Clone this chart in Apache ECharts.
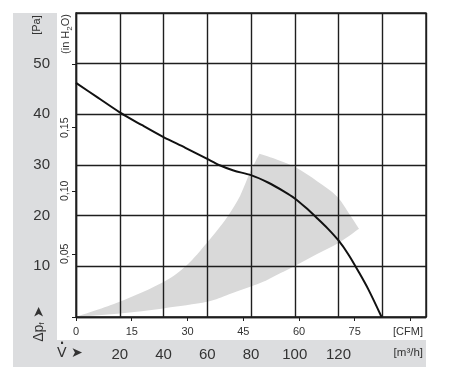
<!DOCTYPE html>
<html>
<head>
<meta charset="utf-8">
<script src="https://cdn.jsdelivr.net/npm/echarts/dist/echarts.min.js"></script>
<style>
html,body{margin:0;padding:0;background:#fff;}
#chart{width:458px;height:391px;}
</style>
</head>
<body>
<div id="chart"></div>
<script>
// ---- data ----
// fan curve: volume flow [m³/h] vs static pressure [Pa]
const curveFlow = [0, 10, 20, 30, 40, 50, 60, 66, 72, 80, 88, 95, 100, 105, 110, 115, 120, 124.6, 129.1, 133.7, 139.7];
const curvePa   = [46.2, 43.3, 40.4, 37.9, 35.5, 33.4, 31.2, 29.9, 28.9, 28.0, 26.5, 24.8, 23.4, 21.6, 19.6, 17.5, 15.1, 12.3, 9.0, 5.4, 0];

// shaded operating range: upper edge (from origin), outer arc, lower edge (back to origin)
const bandUpperFlow = [0, 20, 40, 50.6, 59.8, 66, 70, 75, 79.6, 83.9];
const bandUpperPa   = [0, 3.0, 6.9, 10.2, 14.6, 17.9, 20.3, 23.9, 28.6, 32.2];
const bandArcFlow   = [83.9, 92.3, 101, 110.2, 119.3, 125.3, 129.4];
const bandArcPa     = [32.2, 31.0, 29.4, 26.8, 23.8, 20.1, 17.4];
const bandLowerFlow = [129.4, 120, 110, 100.2, 90, 84.2, 70, 59.8, 39.9, 20.1, 0];
const bandLowerPa   = [17.4, 14.6, 12.4, 10.1, 7.9, 6.7, 4.5, 3.0, 1.7, 0.7, 0];

// axis tick labels
const paLabels   = [10, 20, 30, 40, 50];
const flowLabels = [20, 40, 60, 80, 100, 120];
const cfmLabels  = [0, 15, 30, 45, 60, 75];
const inH2OLabels = ['0,05', '0,10', '0,15'];

const M3H_PER_CFM = 1.699;
const PA_PER_INH2O = 249.09;
const FLOW_MAX = 160, PA_MAX = 60;

const FONT = '"Liberation Sans", Arial, sans-serif';
const TXT = '#333';
const LINE = '#1e1e1e';

// Catmull-Rom -> cubic Bezier path segments through pixel points (no extra data points)
function curveSegs(p) {
  let d = '';
  for (let i = 0; i < p.length - 1; i++) {
    const p0 = p[i - 1] || p[i], p1 = p[i], p2 = p[i + 1], p3 = p[i + 2] || p[i + 1];
    const c1 = [p1[0] + (p2[0] - p0[0]) / 6, p1[1] + (p2[1] - p0[1]) / 6];
    const c2 = [p2[0] - (p3[0] - p1[0]) / 6, p2[1] - (p3[1] - p1[1]) / 6];
    d += ' C' + c1[0] + ',' + c1[1] + ' ' + c2[0] + ',' + c2[1] + ' ' + p2[0] + ',' + p2[1];
  }
  return d;
}

const chart = echarts.init(document.getElementById('chart'), null, {renderer: 'canvas'});

const option = {
  animation: false,
  backgroundColor: '#fff',
  textStyle: {fontFamily: FONT},
  grid: {left: 76, right: 32, top: 13, bottom: 74, show: true, borderColor: LINE, borderWidth: 1.4, backgroundColor: 'transparent'},
  xAxis: [
    {
      type: 'value', min: 0, max: FLOW_MAX, interval: 20, position: 'bottom',
      axisLine: {show: true, lineStyle: {color: LINE, width: 1.4}},
      axisTick: {show: false},
      splitLine: {show: true, lineStyle: {color: LINE, width: 1.4}},
      axisLabel: {
        margin: 30, fontSize: 15, color: TXT, fontFamily: FONT,
        formatter: v => flowLabels.includes(Math.round(v)) && Math.abs(v - Math.round(v)) < 1e-6 ? String(Math.round(v)) : ''
      }
    },
    {
      type: 'value', min: 0, max: FLOW_MAX / M3H_PER_CFM, interval: 15, position: 'bottom',
      axisLine: {show: false},
      axisTick: {show: true, length: 4, lineStyle: {color: LINE, width: 1}},
      splitLine: {show: false},
      axisLabel: {
        margin: 9, fontSize: 11, color: TXT, fontFamily: FONT,
        showMaxLabel: false,
        formatter: v => (Math.abs(v - Math.round(v)) < 1e-6 && cfmLabels.includes(Math.round(v))) ? String(Math.round(v)) : ''
      }
    }
  ],
  yAxis: [
    {
      type: 'value', min: 0, max: PA_MAX, interval: 10, position: 'left',
      axisLine: {show: true, lineStyle: {color: LINE, width: 1.4}},
      axisTick: {show: false},
      splitLine: {show: true, lineStyle: {color: LINE, width: 1.4}},
      axisLabel: {
        margin: 26, fontSize: 15, color: TXT, fontFamily: FONT,
        formatter: v => paLabels.includes(Math.round(v)) ? String(Math.round(v)) : ''
      }
    },
    {
      type: 'value', min: 0, max: PA_MAX / PA_PER_INH2O, interval: 0.05, position: 'left',
      axisLine: {show: false},
      axisTick: {show: true, length: 4, lineStyle: {color: LINE, width: 1}},
      splitLine: {show: false},
      axisLabel: {
        margin: 5, fontSize: 10.5, color: TXT, fontFamily: FONT, rotate: 90,
        showMaxLabel: false,
        formatter: v => {
          const s = v.toFixed(2).replace('.', ',');
          return inH2OLabels.includes(s) ? s : '';
        }
      }
    }
  ],
  graphic: [
    {type: 'rect', z: -10, shape: {x: 13, y: 13, width: 44, height: 354}, style: {fill: '#dcdddf'}},
    {type: 'rect', z: -10, shape: {x: 13, y: 340, width: 413, height: 27}, style: {fill: '#dcdddf'}},
    {type: 'text', x: 37, y: 25, rotation: Math.PI / 2, style: {text: '[Pa]', font: '11px ' + FONT, fill: TXT, align: 'center', verticalAlign: 'middle'}},
    {type: 'text', x: 66, y: 34, rotation: Math.PI / 2, style: {
      text: '{a|(in H}{s|2}{a|O)}', fill: TXT, align: 'center', verticalAlign: 'middle',
      rich: {a: {fontSize: 11, fontFamily: FONT, fill: TXT, verticalAlign: 'bottom'}, s: {fontSize: 8, fontFamily: FONT, fill: TXT, verticalAlign: 'bottom', padding: [0, 0, -2, 0]}}
    }},
    {type: 'text', x: 39, y: 324, rotation: Math.PI / 2, style: {
      text: '{a|Δp}{s|f}{b| ➤}', fill: TXT, align: 'center', verticalAlign: 'middle',
      rich: {a: {fontSize: 14, fontFamily: FONT, fill: TXT, verticalAlign: 'bottom'}, s: {fontSize: 8, fontFamily: FONT, fill: TXT, verticalAlign: 'bottom'}, b: {fontSize: 14, fontFamily: '"DejaVu Sans", sans-serif', fill: TXT}}
    }},
    {type: 'text', x: 57, y: 353, style: {text: 'V ➤', font: '14px "DejaVu Sans", sans-serif', fill: TXT, align: 'left', verticalAlign: 'middle'}},
    {type: 'text', x: 62, y: 344, style: {text: '·', font: 'bold 12px "DejaVu Sans", sans-serif', fill: TXT, align: 'center', verticalAlign: 'middle'}},
    {type: 'text', x: 423, y: 332, style: {text: '[CFM]', font: '11px ' + FONT, fill: TXT, align: 'right', verticalAlign: 'middle'}},
    {type: 'text', x: 423, y: 353, style: {text: '[m³/h]', font: '11.5px ' + FONT, fill: TXT, align: 'right', verticalAlign: 'middle'}}
  ],
  series: [
    {
      type: 'custom', xAxisIndex: 0, yAxisIndex: 0, z: -1, silent: true,
      data: [[0, 0]],
      renderItem: (params, api) => {
        const up = bandUpperFlow.map((f, i) => api.coord([f, bandUpperPa[i]]));
        const arc = bandArcFlow.map((f, i) => api.coord([f, bandArcPa[i]]));
        const low = bandLowerFlow.map((f, i) => api.coord([f, bandLowerPa[i]]));
        const d = 'M' + up[0][0] + ',' + up[0][1] + curveSegs(up) + curveSegs(arc) + curveSegs(low) + ' Z';
        return {type: 'path', shape: {pathData: d}, style: {fill: '#d9d9d9', stroke: null}};
      }
    },
    {
      type: 'line', xAxisIndex: 0, yAxisIndex: 0, smooth: 0.3, symbol: 'none',
      lineStyle: {color: '#111', width: 2},
      data: curveFlow.map((f, i) => [f, curvePa[i]]),
      z: 5
    }
  ]
};
chart.setOption(option);
</script>
</body>
</html>
